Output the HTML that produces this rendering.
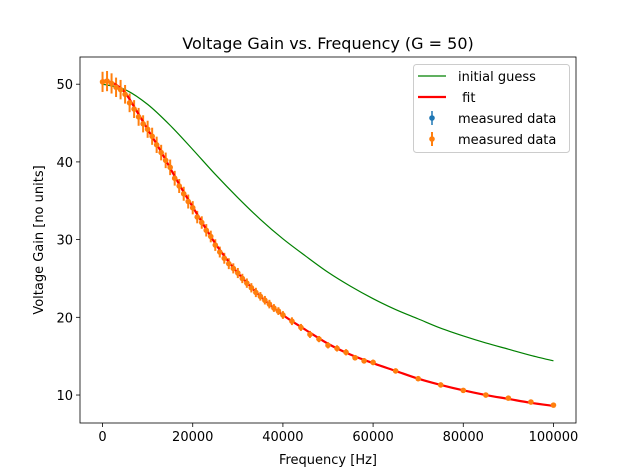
<!DOCTYPE html>
<html><head><meta charset="utf-8"><style>
body{margin:0;background:#fff;}
svg{display:block;font-family:"DejaVu Sans","Liberation Sans",sans-serif;}
</style></head><body>
<svg id="chart" width="640" height="476" viewBox="0 0 640 476">
<rect width="640" height="476" fill="#fff"/>
<text x="328" y="49" font-size="16" text-anchor="middle">Voltage Gain vs. Frequency (G = 50)</text>
<g id="plot"></g>
<text x="328" y="464" font-size="13" text-anchor="middle">Frequency [Hz]</text>
<text transform="translate(43,240) rotate(-90)" font-size="13" text-anchor="middle">Voltage Gain [no units]</text>
</svg>
<script>
const measF=[0,1000,2000,3000,4000,5000,6000,7000,8000,9000,10000,11000,12000,13000,14000,15000,16000,17000,18000,19000,20000,21000,22000,23000,24000,25000,26000,27000,28000,29000,30000,31000,32000,33000,34000,35000,36000,37000,38000,39000,40000,42000,44000,46000,48000,50000,52000,54000,56000,58000,60000,65000,70000,75000,80000,85000,90000,95000,100000];
const measV=[50.3,50.4,50.1,49.6,49.3,48.7,47.6,46.8,45.8,44.9,44.2,43.3,42.2,41.2,40.2,39.3,37.9,36.9,35.9,34.9,34.1,32.9,32.2,31.2,30.4,29.3,28.4,27.6,26.9,26.3,25.7,25.0,24.4,23.8,23.2,22.7,22.2,21.7,21.2,20.8,20.3,19.5,18.7,17.8,17.2,16.4,16.0,15.5,14.8,14.4,14.2,13.1,12.1,11.3,10.6,10.0,9.6,9.1,8.7];
const measErr=[1.3,1.3,1.3,1.25,1.25,1.2,1.2,1.15,1.15,1.1,1.1,1.1,1.05,1.0,1.0,1.0,0.95,0.9,0.9,0.9,0.85,0.8,0.8,0.8,0.75,0.75,0.7,0.7,0.7,0.65,0.65,0.6,0.6,0.6,0.6,0.55,0.55,0.55,0.5,0.5,0.5,0.5,0.45,0.45,0.4,0.4,0.4,0.4,0.35,0.35,0.35,0.3,0.3,0.3,0.25,0.25,0.25,0.2,0.2];
const fitF=[0,2500,5000,7500,10000,12500,15000,17500,20000,22500,25000,27500,30000,35000,40000,45000,50000,55000,60000,65000,70000,75000,80000,85000,90000,95000,100000];
const fitV=[50.5,50.1,48.9,46.6,44.2,41.8,39.2,36.6,34.2,31.8,29.5,27.5,25.7,22.7,20.3,18.4,16.6,15.2,14.1,13.1,12.1,11.3,10.6,10.0,9.5,9.0,8.6];
const guessF=[0,5000,10000,15000,20000,25000,30000,35000,40000,45000,50000,55000,60000,65000,70000,75000,80000,85000,90000,95000,100000];
const guessV=[50.0,49.3,47.4,44.7,41.6,38.4,35.4,32.6,30.1,27.9,25.8,24.0,22.4,21.0,19.8,18.6,17.6,16.7,15.9,15.1,14.4];
const xTicks=[0,20000,40000,60000,80000,100000];
const yTicks=[10,20,30,40,50];

const L=80,R=576,T=57,B=423, xMin=-5000,xMax=105000,yMin=6.4,yMax=53.5;
const X=v=>L+(v-xMin)/(xMax-xMin)*(R-L);
const Y=v=>B-(v-yMin)/(yMax-yMin)*(B-T);
const NS="http://www.w3.org/2000/svg";
const g=document.getElementById('plot');
function mk(t,a,p){const e=document.createElementNS(NS,t);for(const k in a)e.setAttribute(k,a[k]);(p||g).appendChild(e);return e;}
function smooth(F,V){let pts=F.map((f,i)=>[X(f),Y(V[i])]);let d='M'+pts[0][0]+','+pts[0][1];
for(let i=0;i<pts.length-1;i++){const p0=pts[Math.max(0,i-1)],p1=pts[i],p2=pts[i+1],p3=pts[Math.min(pts.length-1,i+2)];
d+=' C'+(p1[0]+(p2[0]-p0[0])/6)+','+(p1[1]+(p2[1]-p0[1])/6)+' '+(p2[0]-(p3[0]-p1[0])/6)+','+(p2[1]-(p3[1]-p1[1])/6)+' '+p2[0]+','+p2[1];}return d;}

xTicks.forEach(t=>{const x=X(t);
const l=mk('line',{x1:x,x2:x,y1:B,y2:B+4,stroke:'#000','stroke-width':0.8});


const tx=mk('text',{x:x,y:B+18,'font-size':13,'text-anchor':'middle'});tx.textContent=t;

});
yTicks.forEach(t=>{const y=Y(t);
const l=mk('line',{x1:L-4,x2:L,y1:y,y2:y,stroke:'#000','stroke-width':0.8});


const tx=mk('text',{x:L-7,y:y+5,'font-size':13,'text-anchor':'end'});tx.textContent=t;

});

const gl=mk('path',{d:smooth(guessF,guessV),fill:'none',stroke:'#008000','stroke-width':1.2});


measF.forEach((f,i)=>{const x=X(f);
const eb=mk('line',{x1:x,x2:x,y1:Y(measV[i]-measErr[i]),y2:Y(measV[i]+measErr[i]),stroke:'#ff7f0e','stroke-width':2});

});
const fl=mk('path',{d:smooth(fitF,fitV),fill:'none',stroke:'#ff0000','stroke-width':2.2});


measF.forEach((f,i)=>{
const c=mk('circle',{cx:X(f),cy:Y(measV[i]),r:2.8,fill:'#ff7f0e'});

});

const fr=mk('rect',{x:L,y:T,width:R-L,height:B-T,fill:'none',stroke:'#000','stroke-width':0.8});



const lg=mk('g',{});


mk('rect',{x:413.5,y:64.5,width:156,height:88,rx:3,fill:'#fff',stroke:'#ccc'},lg);
const items=[['initial guess','line','#008000',1.2,76],['\u00a0fit','line','#ff0000',2.2,97],['measured data','err','#1f77b4',1.5,118],['measured data','err','#ff7f0e',2,139]];
items.forEach(it=>{const y=it[4];
const e=mk('g',{},lg);


if(it[1]==='line'){mk('line',{x1:418,x2:446,y1:y,y2:y,stroke:it[2],'stroke-width':it[3]},e);}
else{mk('line',{x1:432,x2:432,y1:y-7,y2:y+7,stroke:it[2],'stroke-width':it[3]},e);mk('circle',{cx:432,cy:y,r:2.8,fill:it[2]},e);}
const t=mk('text',{x:458,y:y+5,'font-size':13},e);t.textContent=it[0];});
</script>
</body></html>
